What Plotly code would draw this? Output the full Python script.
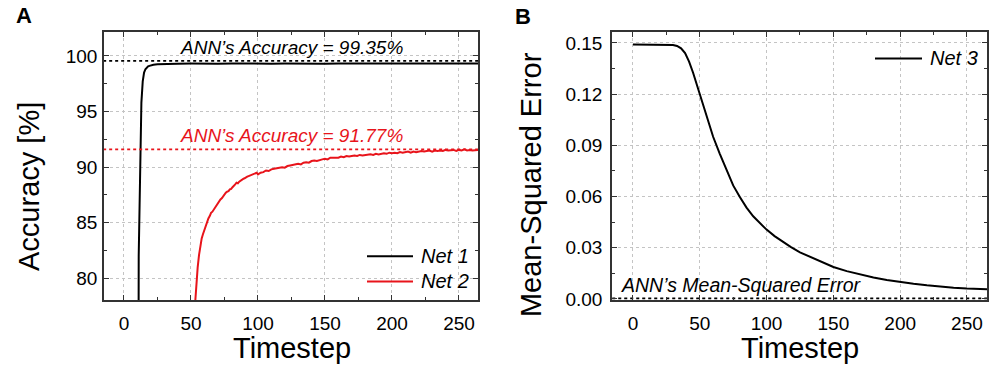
import plotly.graph_objects as go

# ---------------- data ----------------
net1_t = [0, 5, 10, 11, 12, 13, 14, 15, 16, 17, 18, 19, 20, 22, 25, 30, 40, 50, 60, 70, 80,
          90, 100, 110, 120, 130, 140, 150, 160, 170, 180, 190, 200, 210, 220, 230, 240,
          250, 260, 266]
net1_acc = [9.8, 10.0, 10.3, 82.0, 90.5, 95.8, 97.7, 98.5, 98.8, 98.95, 99.05, 99.1, 99.15,
            99.2, 99.25, 99.28, 99.3, 99.31, 99.29, 99.3, 99.32, 99.3, 99.31, 99.3, 99.32,
            99.3, 99.31, 99.3, 99.32, 99.31, 99.3, 99.31, 99.32, 99.3, 99.31, 99.32, 99.3,
            99.31, 99.3, 99.31]

net2_t = [0, 20, 40, 52, 53, 54, 55, 56, 57, 58, 59, 60, 61, 62, 63, 64, 65, 66, 67, 68, 69,
          70, 71, 72, 73, 74, 75, 76, 77, 78, 79, 80, 81, 82, 83, 84, 85, 86, 87, 88, 89, 90,
          91, 92, 93, 94, 95, 96, 97, 98, 99,
          100, 102, 104, 106, 108, 110, 112, 114, 116, 118, 120, 122, 124, 126, 128, 130,
          132, 134, 136, 138, 140, 142, 144, 146, 148, 150, 152, 154, 156, 158, 160, 162,
          164, 166, 168, 170, 172, 174, 176, 178, 180, 182, 184, 186, 188, 190, 192, 194,
          196, 198, 200, 202, 204, 206, 208, 210, 212, 214, 216, 218, 220, 222, 224, 226,
          228, 230, 232, 234, 236, 238, 240, 242, 244, 246, 248, 250, 252, 254, 256, 258,
          260, 262, 264, 266]
net2_acc = [9.8, 9.9, 10.0, 10.2, 77.6, 79.6, 81.0, 82.1, 82.9, 83.6, 84.0, 84.4, 84.8, 85.1,
            85.4, 85.6, 85.9, 86.0, 86.2, 86.4, 86.6, 86.8, 86.9, 87.1, 87.2, 87.4, 87.5,
            87.7, 87.8, 87.85, 88.0, 88.05, 88.2, 88.3, 88.45, 88.6, 88.55, 88.7, 88.8,
            88.85, 88.95, 89.0, 89.1, 89.15, 89.2, 89.25, 89.3, 89.35, 89.4, 89.45, 89.5,
            89.35, 89.5, 89.55, 89.7, 89.65, 89.8, 89.85, 89.9, 89.95, 90.0, 89.95, 90.1,
            90.15, 90.2, 90.25, 90.3, 90.25, 90.4, 90.45, 90.4, 90.55, 90.6, 90.55, 90.65,
            90.7, 90.75, 90.7, 90.85, 90.85, 90.9, 90.85, 90.95, 90.9, 91.0, 90.95, 91.0,
            91.05, 91.0, 91.1, 91.05, 91.1, 91.1, 91.15, 91.1, 91.2, 91.15, 91.2, 91.25,
            91.2, 91.3, 91.25, 91.3, 91.25, 91.35, 91.3, 91.35, 91.4, 91.3, 91.4, 91.35,
            91.4, 91.45, 91.4, 91.45, 91.5, 91.4, 91.5, 91.45, 91.5, 91.45, 91.55, 91.5,
            91.5, 91.55, 91.45, 91.55, 91.5, 91.6, 91.5, 91.55, 91.5, 91.55, 91.55, 91.5]

net3_t = [0, 5, 10, 15, 20, 25, 30, 33, 36, 39, 42, 45, 48, 50, 53, 56, 60, 65, 70, 75, 80,
          85, 90, 95, 100, 106, 112, 118, 125, 132, 140, 150, 160, 170, 180, 190, 200, 210,
          220, 230, 240, 250, 260, 266]
net3_mse = [0.1490, 0.1490, 0.1490, 0.1490, 0.1490, 0.1490, 0.1488, 0.1482, 0.1468, 0.1440,
            0.1390, 0.1325, 0.1250, 0.1200, 0.1120, 0.1040, 0.0950, 0.0850, 0.0752, 0.0665,
            0.0597, 0.0535, 0.0484, 0.0442, 0.0406, 0.0368, 0.0334, 0.0305, 0.0273, 0.0248,
            0.0222, 0.0187, 0.0163, 0.0143, 0.0126, 0.0111, 0.0099, 0.0089, 0.0080, 0.0072,
            0.0066, 0.0061, 0.0058, 0.0056]

ann1_acc_line = 99.55
ann2_acc_line = 91.6
ann_mse_line = 0.0003

acc_ticks = [80, 85, 90, 95, 100]
mse_ticks = [0.00, 0.03, 0.06, 0.09, 0.12, 0.15]
mse_tick_labels = ["0.00", "0.03", "0.06", "0.09", "0.12", "0.15"]
time_ticks = [0, 50, 100, 150, 200, 250]

# ---------------- figure ----------------
W, H = 1000, 383
FONT = "Liberation Sans, Arial, sans-serif"
RED = "#e8141b"

def px(x):
    return x / W

def py(y):
    return 1 - y / H

fig = go.Figure()
fig.add_trace(go.Scatter(x=net1_t, y=net1_acc, mode="lines", name="Net 1",
                         line=dict(color="black", width=2), xaxis="x", yaxis="y",
                         showlegend=False))
fig.add_trace(go.Scatter(x=net2_t, y=net2_acc, mode="lines", name="Net 2",
                         line=dict(color=RED, width=2), xaxis="x", yaxis="y",
                         showlegend=False))
fig.add_trace(go.Scatter(x=[-20, 270], y=[ann1_acc_line] * 2, mode="lines",
                         line=dict(color="black", width=1.6, dash="dot"),
                         xaxis="x", yaxis="y", showlegend=False, hoverinfo="skip"))
fig.add_trace(go.Scatter(x=[-20, 270], y=[ann2_acc_line] * 2, mode="lines",
                         line=dict(color=RED, width=1.6, dash="dot"),
                         xaxis="x", yaxis="y", showlegend=False, hoverinfo="skip"))
fig.add_trace(go.Scatter(x=net3_t, y=net3_mse, mode="lines", name="Net 3",
                         line=dict(color="black", width=2), xaxis="x2", yaxis="y2",
                         showlegend=False))
fig.add_trace(go.Scatter(x=[-20, 270], y=[ann_mse_line] * 2, mode="lines",
                         line=dict(color="black", width=1.6, dash="dot"),
                         xaxis="x2", yaxis="y2", showlegend=False, hoverinfo="skip"))

common_axis = dict(
    showline=True, linecolor="#333333", linewidth=1.5, mirror="allticks",
    ticks="inside", ticklen=5, tickwidth=1.2, tickcolor="#333333",
    showgrid=True, gridcolor="#c4c4c4", griddash="dot", gridwidth=1,
    zeroline=False, tickfont=dict(family=FONT, size=19, color="black"),
)

fig.update_layout(
    width=W, height=H,
    margin=dict(l=0, r=0, t=0, b=0),
    paper_bgcolor="white", plot_bgcolor="white",
    font=dict(family=FONT, color="black"),
    xaxis=dict(domain=[px(104), px(478)], range=[-14.9, 264.2], anchor="y",
               tickvals=time_ticks, ticklabelstandoff=5,
               minor=dict(dtick=25, ticks="inside", ticklen=3,
                          tickcolor="#333333", showgrid=False),
               **common_axis),
    yaxis=dict(domain=[py(308), py(33)], range=[78.07, 102.13], anchor="x",
               tickvals=acc_ticks, ticklabelstandoff=1,
               minor=dict(dtick=2.5, ticks="inside", ticklen=3,
                          tickcolor="#333333", showgrid=False),
               **common_axis),
    xaxis2=dict(domain=[px(612), px(987)], range=[-15.7, 265.0], anchor="y2",
                tickvals=time_ticks, ticklabelstandoff=5,
                minor=dict(dtick=25, ticks="inside", ticklen=3,
                           tickcolor="#333333", showgrid=False),
                **common_axis),
    yaxis2=dict(domain=[py(308), py(33)], range=[-0.0006, 0.1563], anchor="x2",
                tickvals=mse_ticks, ticktext=mse_tick_labels, ticklabelstandoff=4,
                minor=dict(dtick=0.015, ticks="inside", ticklen=3,
                           tickcolor="#333333", showgrid=False),
                **common_axis),
)

annotations = [
    dict(text="<b>A</b>", x=px(24), y=py(16), font=dict(size=22)),
    dict(text="<b>B</b>", x=px(523), y=py(17), font=dict(size=22)),
    dict(text="Accuracy [%]", x=px(29), y=py(192), textangle=-90, font=dict(size=29)),
    dict(text="Mean-Squared Error", x=px(531), y=py(190), textangle=-90, font=dict(size=29)),
    dict(text="Timestep", x=px(292), y=py(357), font=dict(size=29)),
    dict(text="Timestep", x=px(800), y=py(357), font=dict(size=29)),
    dict(text="ANN’s Accuracy = 99.35%", x=px(291), y=py(49),
         font=dict(size=19, style="italic", color="black")),
    dict(text="ANN’s Accuracy = 91.77%", x=px(291), y=py(139),
         font=dict(size=19, style="italic", color=RED)),
    dict(text="ANN’s Mean-Squared Error", x=px(619), y=py(293), xanchor="left",
         font=dict(size=19.5, style="italic", color="black")),
    dict(text="Net 1", x=px(419), y=py(263), xanchor="left",
         font=dict(size=20, style="italic")),
    dict(text="Net 2", x=px(419), y=py(289), xanchor="left",
         font=dict(size=20, style="italic")),
    dict(text="Net 3", x=px(928), y=py(60), xanchor="left",
         font=dict(size=20, style="italic")),
]
for a in annotations:
    a.setdefault("xanchor", "center")
    a.update(xref="paper", yref="paper", yanchor="middle", showarrow=False)
    a["font"].setdefault("family", FONT)
    a["font"].setdefault("color", "black")
fig.update_layout(annotations=annotations)

legend_lines = [
    (367, 413, 263, "black"),
    (367, 413, 289, RED),
    (875, 922, 60, "black"),
]
fig.update_layout(shapes=[
    dict(type="line", xref="paper", yref="paper", x0=px(a), x1=px(b), y0=py(y), y1=py(y),
         line=dict(color=c, width=2))
    for a, b, y, c in legend_lines
])

fig.write_html("out.html", config={"displayModeBar": False},
               post_script="document.body.style.margin='0px';"
                           "document.body.style.overflow='hidden';")
